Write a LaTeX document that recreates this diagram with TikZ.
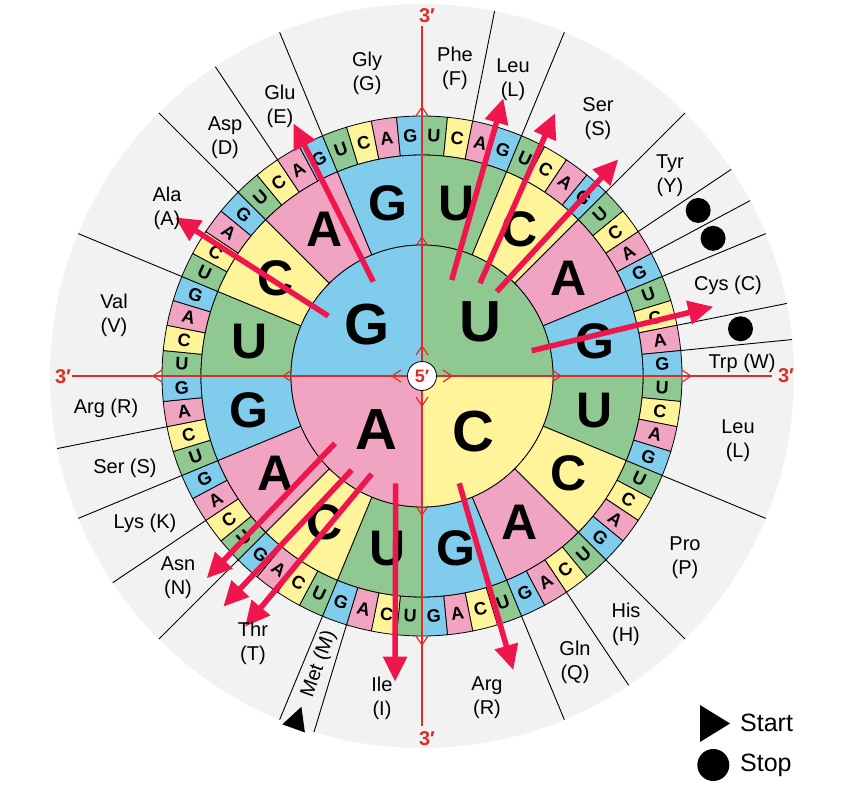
\documentclass[tikz,border=0pt]{standalone}
\usepackage{fontspec}
\setmainfont{Liberation Sans}
\usetikzlibrary{arrows.meta}
\definecolor{c0}{RGB}{143,201,145}
\definecolor{c1}{RGB}{255,244,154}
\definecolor{c2}{RGB}{241,163,194}
\definecolor{c3}{RGB}{127,204,236}
\definecolor{bggray}{RGB}{242,242,242}
\definecolor{arrred}{RGB}{238,22,76}
\definecolor{axred}{RGB}{222,45,38}
\newcommand\baseL[1]{\ifcase#1 U\or C\or A\or G\fi}
\begin{document}
\begin{tikzpicture}[x=1pt,y=1pt,
  lbl/.style={font=\fontsize{20}{24}\selectfont, align=center, inner sep=0pt},
  smallbase/.style={font=\bfseries\fontsize{18}{18}\selectfont, inner sep=0pt},
  midbase/.style={font=\bfseries\fontsize{50}{50}\selectfont, inner sep=0pt},
  bigbase/.style={font=\bfseries\fontsize{58}{58}\selectfont, inner sep=0pt},
  threelbl/.style={font=\bfseries\fontsize{20}{20}\selectfont, text=axred, inner sep=0pt},
  cell/.style={draw=black, line width=0.8pt},
  aaline/.style={draw=black, line width=0.9pt},
  codon/.style={draw=arrred, line width=5.5pt, -{Triangle[length=25pt,width=23pt]}},
  axisline/.style={draw=axred, line width=1.2pt},
]
\useasboundingbox (-422,-408) rectangle (428,376);
\fill[white] (-422,-408) rectangle (428,376);
\fill[bggray] (0,0) circle[radius=372];

% amino acid separators
\foreach \a in {78.75,67.5,45,33.75,28.125,22.5,11.25,5.625,-22.5,-45,-56.25,-67.5,-106.875,-112.5,-135,-146.25,-157.5,-168.75,157.5,135,123.75,112.5}
  \draw[aaline] (\a:259) -- (\a:372);

% third ring
\foreach \k in {0,...,63} {
  \pgfmathtruncatemacro\m{mod(\k,4)}
  \pgfmathsetmacro\aS{90-5.625*\k}
  \pgfmathsetmacro\aE{90-5.625*(\k+1)}
  \pgfmathsetmacro\aM{90-5.625*(\k+0.5)}
  \pgfmathsetmacro\rot{mod(\aM+675,90)-45}
  \filldraw[cell, fill=c\m] (\aS:221) -- (\aS:260) arc[start angle=\aS, end angle=\aE, radius=260] -- (\aE:221) arc[start angle=\aE, end angle=\aS, radius=221] -- cycle;
  \node[smallbase, rotate=\rot] (t\k) at (\aM:240.5) {\baseL{\m}};
}

% second ring
\foreach \s in {0,...,15} {
  \pgfmathtruncatemacro\m{mod(\s,4)}
  \pgfmathsetmacro\aS{90-22.5*\s}
  \pgfmathsetmacro\aE{90-22.5*(\s+1)}
  \pgfmathsetmacro\aM{90-22.5*(\s+0.5)}
  \filldraw[cell, fill=c\m] (\aS:131) -- (\aS:221) arc[start angle=\aS, end angle=\aE, radius=221] -- (\aE:131) arc[start angle=\aE, end angle=\aS, radius=131] -- cycle;
  \node[midbase] (s\s) at (\aM:176) {\baseL{\m}};
}

% inner quadrants
\foreach \q in {0,...,3} {
  \pgfmathsetmacro\aS{90-90*\q}
  \pgfmathsetmacro\aE{90-90*(\q+1)}
  \fill[c\q] (0,0) -- (\aS:131) arc[start angle=\aS, end angle=\aE, radius=131] -- cycle;
}
\draw[cell] (0,0) circle[radius=131];

% axes
\draw[axisline] (0,-350) -- (0,350);
\draw[axisline] (-350,0) -- (350,0);
\foreach \a in {0,90,180,270}
  \foreach \r in {30,139,269}
    \draw[axisline, rotate=\a] (\r-9,6) -- (\r,0) -- (\r-9,-6);

% inner letters
\node[bigbase] (qU) at (58,54) {U};
\node[bigbase] (qC) at (51,-56) {C};
\node[bigbase] (qA) at (-46,-54) {A};
\node[bigbase] (qG) at (-55,51) {G};

% red codon arrows
\coordinate (a1s) at (-93.7,60);    \coordinate (a1e) at (-247,158.7);
\coordinate (a2s) at (-48.7,94.3);  \coordinate (a2e) at (-128.7,252.7);
\coordinate (a3s) at (29.7,96);     \coordinate (a3e) at (81.3,277.7);
\coordinate (a4s) at (58,92.7);     \coordinate (a4e) at (133,262.7);
\coordinate (a5s) at (74.7,84.3);   \coordinate (a5e) at (196.3,216.7);
\coordinate (a6s) at (109.7,25.3);  \coordinate (a6e) at (291.3,69.3);
\coordinate (a7s) at (-87,-67.3);   \coordinate (a7e) at (-215.3,-202.3);
\coordinate (a8s) at (-70.3,-94);   \coordinate (a8e) at (-198.7,-230.7);
\coordinate (a9s) at (-50.3,-98);   \coordinate (a9e) at (-177,-250.7);
\coordinate (a10s) at (-26.3,-107.3); \coordinate (a10e) at (-27,-305.7);
\coordinate (a11s) at (37.3,-107.3);  \coordinate (a11e) at (91.3,-294);
\foreach \i in {1,...,11}
  \draw[codon] (a\i s) -- (a\i e);

% center
\node[circle, draw=black, fill=white, line width=0.8pt, minimum size=29pt, inner sep=0pt, text=axred, font=\bfseries\fontsize{18}{18}\selectfont] (five) at (0,0) {5′};

% 3' labels
\node[threelbl] (top3) at (5,360) {3′};
\node[threelbl] (rgt3) at (364,0) {3′};
\node[threelbl] (lft3) at (-359,-1) {3′};
\node[threelbl] (bot3) at (5,-363) {3′};

% amino acid labels
\node[lbl] (gly) at (-55,303) {Gly\\(G)};
\node[lbl] (phe) at (33,308) {Phe\\(F)};
\node[lbl] (leu1) at (91,296) {Leu\\(L)};
\node[lbl] (ser1) at (176,257) {Ser\\(S)};
\node[lbl] (tyr) at (248,200) {Tyr\\(Y)};
\node[lbl] (cys) at (306,91) {Cys (C)};
\node[lbl] (trp) at (320,13) {Trp (W)};
\node[lbl] (leu2) at (316,-65) {Leu\\(L)};
\node[lbl] (pro) at (263,-182) {Pro\\(P)};
\node[lbl] (his) at (204,-248) {His\\(H)};
\node[lbl] (gln) at (153,-286) {Gln\\(Q)};
\node[lbl] (arg1) at (65,-322) {Arg\\(R)};
\node[lbl] (ile) at (-40,-322) {Ile\\(I)};
\node[lbl, rotate=70.31] (met) at (-103,-288) {Met (M)};
\node[lbl] (thr) at (-169,-267) {Thr\\(T)};
\node[lbl] (asn) at (-244,-202) {Asn\\(N)};
\node[lbl] (lys) at (-277,-147) {Lys (K)};
\node[lbl] (ser2) at (-297,-92) {Ser (S)};
\node[lbl] (arg2) at (-316,-32) {Arg (R)};
\node[lbl] (val) at (-308,61) {Val\\(V)};
\node[lbl] (ala) at (-255,168) {Ala\\(A)};
\node[lbl] (asp) at (-197,238) {Asp\\(D)};
\node[lbl] (glu) at (-142,270) {Glu\\(E)};

% stop dots
\fill (30.9375:322) circle[radius=12.5];
\fill (25.3125:322) circle[radius=12.5];
\fill (8.4375:322) circle[radius=12.5];

% start triangle at Met
\begin{scope}[shift={(-125,-343)}, rotate=70.31]
  \fill (13,0) -- (-10,12) -- (-10,-12) -- cycle;
\end{scope}

% legend
\fill (278,-329) -- (278,-366) -- (308,-347.5) -- cycle;
\fill (291.3,-389) circle[radius=16];
\node[anchor=west, inner sep=0pt, font=\fontsize{25}{25}\selectfont] (start) at (318,-347) {Start};
\node[anchor=west, inner sep=0pt, font=\fontsize{25}{25}\selectfont] (stop) at (318,-389) {Stop};
\end{tikzpicture}
\end{document}
